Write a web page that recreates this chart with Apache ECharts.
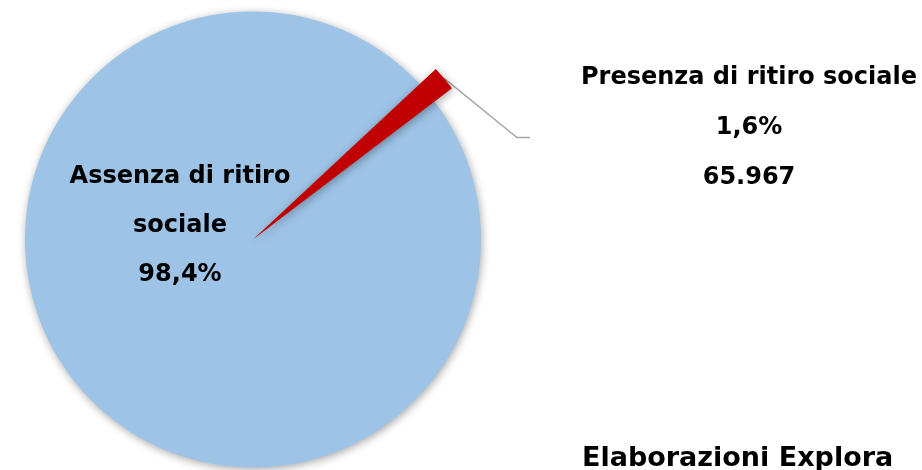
<!DOCTYPE html>
<html>
<head>
<meta charset="utf-8">
<script src="https://cdn.jsdelivr.net/npm/echarts@6/dist/echarts.min.js"></script>
<style>
html,body{margin:0;padding:0;background:#fff;}
#c{width:922px;height:470px;}
</style>
</head>
<body>
<div id="c"></div>
<script>
const categories = ['Presenza di ritiro sociale', 'Assenza di ritiro sociale'];
const percentages = [1.6, 98.4];
const counts = [65967, null];
const colors = ['#C00000', '#9DC3E6'];
const sourceNote = 'Elaborazioni Explora';

function fmtPct(v) { return v.toFixed(1).replace('.', ',') + '%'; }
function fmtCount(v) { return String(v).replace(/\B(?=(\d{3})+(?!\d))/g, '.'); }

const FONT = '"DejaVu Sans", sans-serif';
const chart = echarts.init(document.getElementById('c'), null, {renderer: 'canvas'});

const center = [253, 239.5];
const startAngle = 43;
const shadow = {shadowBlur: 9, shadowOffsetX: 1, shadowOffsetY: 2, shadowColor: 'rgba(0,0,0,0.35)'};

const blueData = categories.map((name, i) => ({
  name: name,
  value: percentages[i],
  itemStyle: i === 1 ? Object.assign({color: colors[i]}, shadow) : {color: 'rgba(0,0,0,0)'},
  label: {show: i === 1},
  labelLine: {show: false}
}));

const redData = categories.map((name, i) => ({
  name: name,
  value: percentages[i],
  itemStyle: i === 0 ? Object.assign({color: colors[i]}, shadow) : {color: 'rgba(0,0,0,0)'},
  label: {show: i === 0},
  labelLine: {show: i === 0}
}));

const txt = {fontFamily: FONT, fontWeight: 'bold', fontSize: 24, color: '#000', lineHeight: 50, width: 336, align: 'center'};
const gap = {fontSize: 2, lineHeight: 12, width: 51};

chart.setOption({
  animation: false,
  title: {
    text: sourceNote,
    left: 577, top: 440,
    textStyle: {fontFamily: FONT, fontWeight: 'bold', fontSize: 27, color: '#000'}
  },
  series: [
    {
      type: 'pie',
      center: center,
      radius: [0, 228],
      startAngle: startAngle,
      clockwise: true,
      avoidLabelOverlap: false,
      silent: true,
      data: blueData,
      label: {
        position: 'inside',
        formatter: p => p.name.replace(' sociale', '\nsociale') + '\n' + fmtPct(p.value),
        fontFamily: FONT, fontWeight: 'bold', fontSize: 24, color: '#000',
        lineHeight: 49, align: 'center'
      },
      labelLayout: p => p.dataIndex === 1 ? {x: 180, y: 226, align: 'center', verticalAlign: 'middle'} : {}
    },
    {
      type: 'pie',
      center: center,
      radius: [0, 250],
      startAngle: startAngle,
      clockwise: true,
      avoidLabelOverlap: false,
      silent: true,
      z: 3,
      data: redData,
      label: {
        position: 'outside',
        alignTo: 'none',
        formatter: p => [p.name, fmtPct(p.value), fmtCount(counts[p.dataIndex])]
          .map(s => '{g| }{t|' + s + '}').join('\n') + '\n{g| }{s| }',
        fontFamily: FONT, fontWeight: 'bold', fontSize: 24, color: '#000',
        align: 'center',
        rich: {
          t: txt,
          g: gap,
          s: {fontSize: 2, lineHeight: 12, width: 336}
        }
      },
      labelLine: {
        show: true, length: 20, length2: 13, minTurnAngle: 30,
        lineStyle: {color: '#A6A6A6', width: 1.5}
      },
      labelLayout: p => p.dataIndex === 0 ? {x: 723.5, y: 133.5, align: 'center', verticalAlign: 'middle'} : {}
    }
  ]
});
</script>
</body>
</html>
